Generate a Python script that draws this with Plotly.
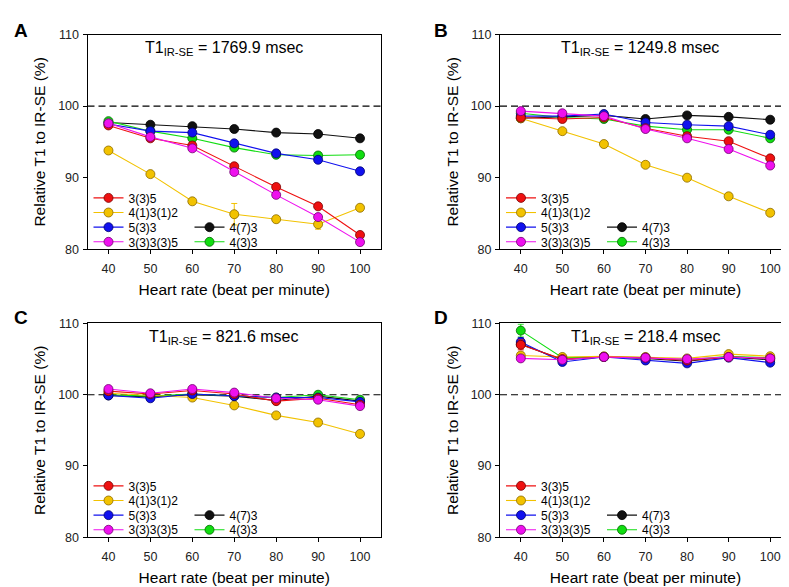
import plotly.graph_objects as go

W, H = 789, 587

heart_rate = [40, 50, 60, 70, 80, 90, 100]
series_names = ["3(3)5", "4(1)3(1)2", "5(3)3", "3(3)3(3)5", "4(7)3", "4(3)3"]
t1_labels = ["1769.9", "1249.8", "821.6", "218.4"]
panel_letters = ["A", "B", "C", "D"]

# Panel A (T1 = 1769.9 ms)
a_335 = [97.3, 95.5, 94.5, 91.6, 88.7, 86.0, 82.0]
a_41312 = [93.8, 90.5, 86.7, 84.9, 84.2, 83.5, 85.8]
a_533 = [97.5, 96.5, 96.3, 94.8, 93.4, 92.5, 90.9]
a_33335 = [97.6, 95.7, 94.1, 90.8, 87.6, 84.5, 81.0]
a_473 = [97.7, 97.4, 97.2, 96.8, 96.3, 96.1, 95.5]
a_433 = [97.9, 96.5, 95.5, 94.2, 93.2, 93.1, 93.2]
a_err = [
    [0.4, 0.2, 0.3, 0.3, 0.3, 0.3, 0.3],
    [0.2, 0.2, 0.2, 1.5, 0.3, 0.7, 0.2],
    [0.3, 0.2, 0.2, 0.3, 0.2, 0.3, 0.2],
    [0.4, 0.2, 0.3, 0.3, 0.3, 0.3, 0.3],
    [0.2, 0.3, 0.2, 0.2, 0.3, 0.2, 0.4],
    [0.2, 0.2, 0.2, 0.2, 0.2, 0.2, 0.2],
]

# Panel B (T1 = 1249.8 ms)
b_335 = [98.4, 98.2, 98.4, 96.9, 95.8, 95.1, 92.7]
b_41312 = [98.3, 96.5, 94.7, 91.8, 90.0, 87.4, 85.1]
b_533 = [98.6, 98.6, 98.9, 97.7, 97.4, 97.2, 96.0]
b_33335 = [99.3, 99.0, 98.6, 96.8, 95.5, 94.0, 91.7]
b_473 = [98.3, 98.5, 98.7, 98.2, 98.7, 98.5, 98.1]
b_433 = [99.0, 98.4, 98.2, 97.2, 96.7, 96.7, 95.5]
b_err = [
    [0.2, 0.2, 0.2, 0.2, 0.3, 0.4, 0.2],
    [0.2, 0.2, 0.2, 0.2, 0.2, 0.2, 0.2],
    [0.2, 0.2, 0.2, 0.2, 0.2, 0.3, 0.2],
    [0.2, 0.2, 0.2, 0.2, 0.3, 0.3, 0.2],
    [0.2, 0.2, 0.2, 0.2, 0.2, 0.2, 0.2],
    [0.2, 0.2, 0.2, 0.2, 0.3, 0.3, 0.2],
]

# Panel C (T1 = 821.6 ms)
c_335 = [100.5, 100.1, 100.6, 100.1, 99.1, 99.5, 98.6]
c_41312 = [100.2, 99.9, 99.6, 98.5, 97.1, 96.1, 94.5]
c_533 = [99.9, 99.5, 100.1, 99.8, 99.6, 99.6, 99.0]
c_33335 = [100.8, 100.2, 100.8, 100.3, 99.5, 99.3, 98.4]
c_473 = [99.9, 99.7, 100.0, 99.8, 99.2, 99.8, 99.1]
c_433 = [100.0, 99.8, 100.1, 99.9, 99.6, 100.0, 99.3]
c_err = [
    [0.3, 0.2, 0.2, 0.2, 0.2, 0.2, 0.2],
    [0.2, 0.2, 0.2, 0.2, 0.2, 0.2, 0.2],
    [0.3, 0.3, 0.2, 0.3, 0.2, 0.2, 0.2],
    [0.3, 0.2, 0.2, 0.2, 0.2, 0.2, 0.2],
    [0.2, 0.2, 0.2, 0.2, 0.2, 0.2, 0.2],
    [0.2, 0.2, 0.2, 0.2, 0.2, 0.2, 0.2],
]

# Panel D (T1 = 218.4 ms)
d_335 = [107.0, 105.0, 105.3, 105.2, 104.8, 105.3, 105.1]
d_41312 = [105.5, 105.3, 105.4, 105.3, 105.1, 105.7, 105.4]
d_533 = [107.4, 104.6, 105.3, 104.8, 104.4, 105.2, 104.5]
d_33335 = [105.1, 104.9, 105.3, 105.2, 105.0, 105.3, 105.1]
d_473 = [107.1, 104.9, 105.3, 105.1, 104.7, 105.3, 104.9]
d_433 = [109.0, 105.2, 105.3, 105.2, 104.9, 105.4, 105.2]
d_err = [
    [0.7, 0.2, 0.2, 0.2, 0.2, 0.2, 0.2],
    [0.3, 0.2, 0.2, 0.2, 0.2, 0.2, 0.2],
    [0.6, 0.2, 0.2, 0.2, 0.2, 0.2, 0.2],
    [0.2, 0.2, 0.2, 0.2, 0.2, 0.2, 0.2],
    [0.4, 0.2, 0.2, 0.2, 0.2, 0.2, 0.2],
    [0.9, 0.2, 0.2, 0.2, 0.2, 0.2, 0.2],
]

panels = [
    [a_335, a_41312, a_533, a_33335, a_473, a_433],
    [b_335, b_41312, b_533, b_33335, b_473, b_433],
    [c_335, c_41312, c_533, c_33335, c_473, c_433],
    [d_335, d_41312, d_533, d_33335, d_473, d_433],
]
panel_errs = [a_err, b_err, c_err, d_err]

# ---- styling ----
colors = ["#ee1111", "#f2c200", "#1111ee", "#ee11ee", "#111111", "#11dd11"]
edge = ["#7a0000", "#8a6a00", "#000070", "#700070", "#000000", "#006600"]
# legend key placement: column (0/1) and row offset above the x axis (px)
legend_col = [0, 0, 0, 0, 1, 1]
legend_row_off = [53, 38, 23, 8, 23, 8]
draw_order = [4, 5, 1, 2, 0, 3]

FONT = "Liberation Sans, Arial, sans-serif"

def px_x(x):
    return x / W

def px_y(y):
    return 1 - y / H

# plot areas in pixels: (left, right, top, bottom)
areas = [
    (79.5, 373, 20, 240),
    (492, 783, 20, 240),
    (79.5, 373, 316, 535),
    (492, 783, 316, 535),
]

fig = go.Figure()
layout = dict(
    width=W, height=H,
    margin=dict(l=0, r=0, t=0, b=0),
    paper_bgcolor="white", plot_bgcolor="white",
    font=dict(family=FONT, size=12, color="black"),
    showlegend=True,
)
annotations = []
shapes = []

for p in range(4):
    ax = "" if p == 0 else str(p + 1)
    xa, ya = "x" + ax, "y" + ax
    l, r, t, b = areas[p]
    axis_common = dict(
        showline=True, linecolor="black", linewidth=1, mirror=True,
        ticks="outside", ticklen=4, tickcolor="black", tickwidth=1,
        showgrid=False, zeroline=False,
        tickfont=dict(family=FONT, size=12.5, color="#222"),
    )
    layout["xaxis" + ax] = dict(
        axis_common, domain=[px_x(l), px_x(r)], range=[35, 105],
        tickvals=heart_rate, anchor=ya, ticklabelstandoff=4,
        title=dict(text="Heart rate (beat per minute)",
                   font=dict(family=FONT, size=15.5, color="black"), standoff=8),
    )
    layout["yaxis" + ax] = dict(
        axis_common, domain=[px_y(b), px_y(t)], range=[80, 110],
        tickvals=[80, 90, 100, 110], anchor=xa, ticklabelstandoff=1,
        title=dict(text="Relative T1 to IR-SE (%)",
                   font=dict(family=FONT, size=15.5, color="black"), standoff=8),
    )

    for k in draw_order:
        idx = 6 * p + k + 1
        leg = "legend" if idx == 1 else "legend" + str(idx)
        lx = l + 1 if legend_col[k] == 0 else l + 102
        row_center = b - legend_row_off[k]
        layout[leg] = dict(
            bgcolor="rgba(0,0,0,0)", borderwidth=0, tracegroupgap=0,
            font=dict(family=FONT, size=12, color="black"),
            xref="paper", yref="paper", xanchor="left", yanchor="top",
            x=px_x(lx), y=px_y(row_center - 14.5),
            itemclick=False, itemdoubleclick=False)
        vals = panels[p][k]
        fig.add_trace(go.Scatter(
            x=heart_rate, y=vals, name=series_names[k],
            xaxis=xa, yaxis=ya, mode="lines+markers",
            line=dict(color=colors[k], width=1.1),
            marker=dict(size=9, color=colors[k], line=dict(color=edge[k], width=0.8)),
            error_y=dict(type="data", array=panel_errs[p][k], color=colors[k],
                         thickness=1, width=3),
            legend=leg,
            cliponaxis=False,
        ))

    shapes.append(dict(type="line", xref=xa + " domain", yref=ya,
                       x0=0, x1=1, y0=100, y1=100, layer="below",
                       line=dict(color="black", width=1.1, dash="7px,4px")))
    cx = [216, 632, 215, 637][p]
    annotations.append(dict(
        text="T1<sub>IR-SE</sub> = " + t1_labels[p] + " msec",
        xref="paper", yref="paper", x=px_x(cx), y=px_y(t + 14),
        xanchor="center", yanchor="middle", showarrow=False,
        font=dict(family=FONT, size=16, color="black")))
    lx = [4, 424, 4, 424][p]
    ly = [3, 3, 297, 297][p]
    annotations.append(dict(
        text=panel_letters[p], xref="paper", yref="paper",
        x=px_x(lx), y=px_y(ly), xanchor="left", yanchor="top", showarrow=False,
        font=dict(family=FONT, size=19, color="black", weight="bold")))

layout["annotations"] = annotations
layout["shapes"] = shapes
fig.update_layout(**layout)
fig.write_html("out.html")
